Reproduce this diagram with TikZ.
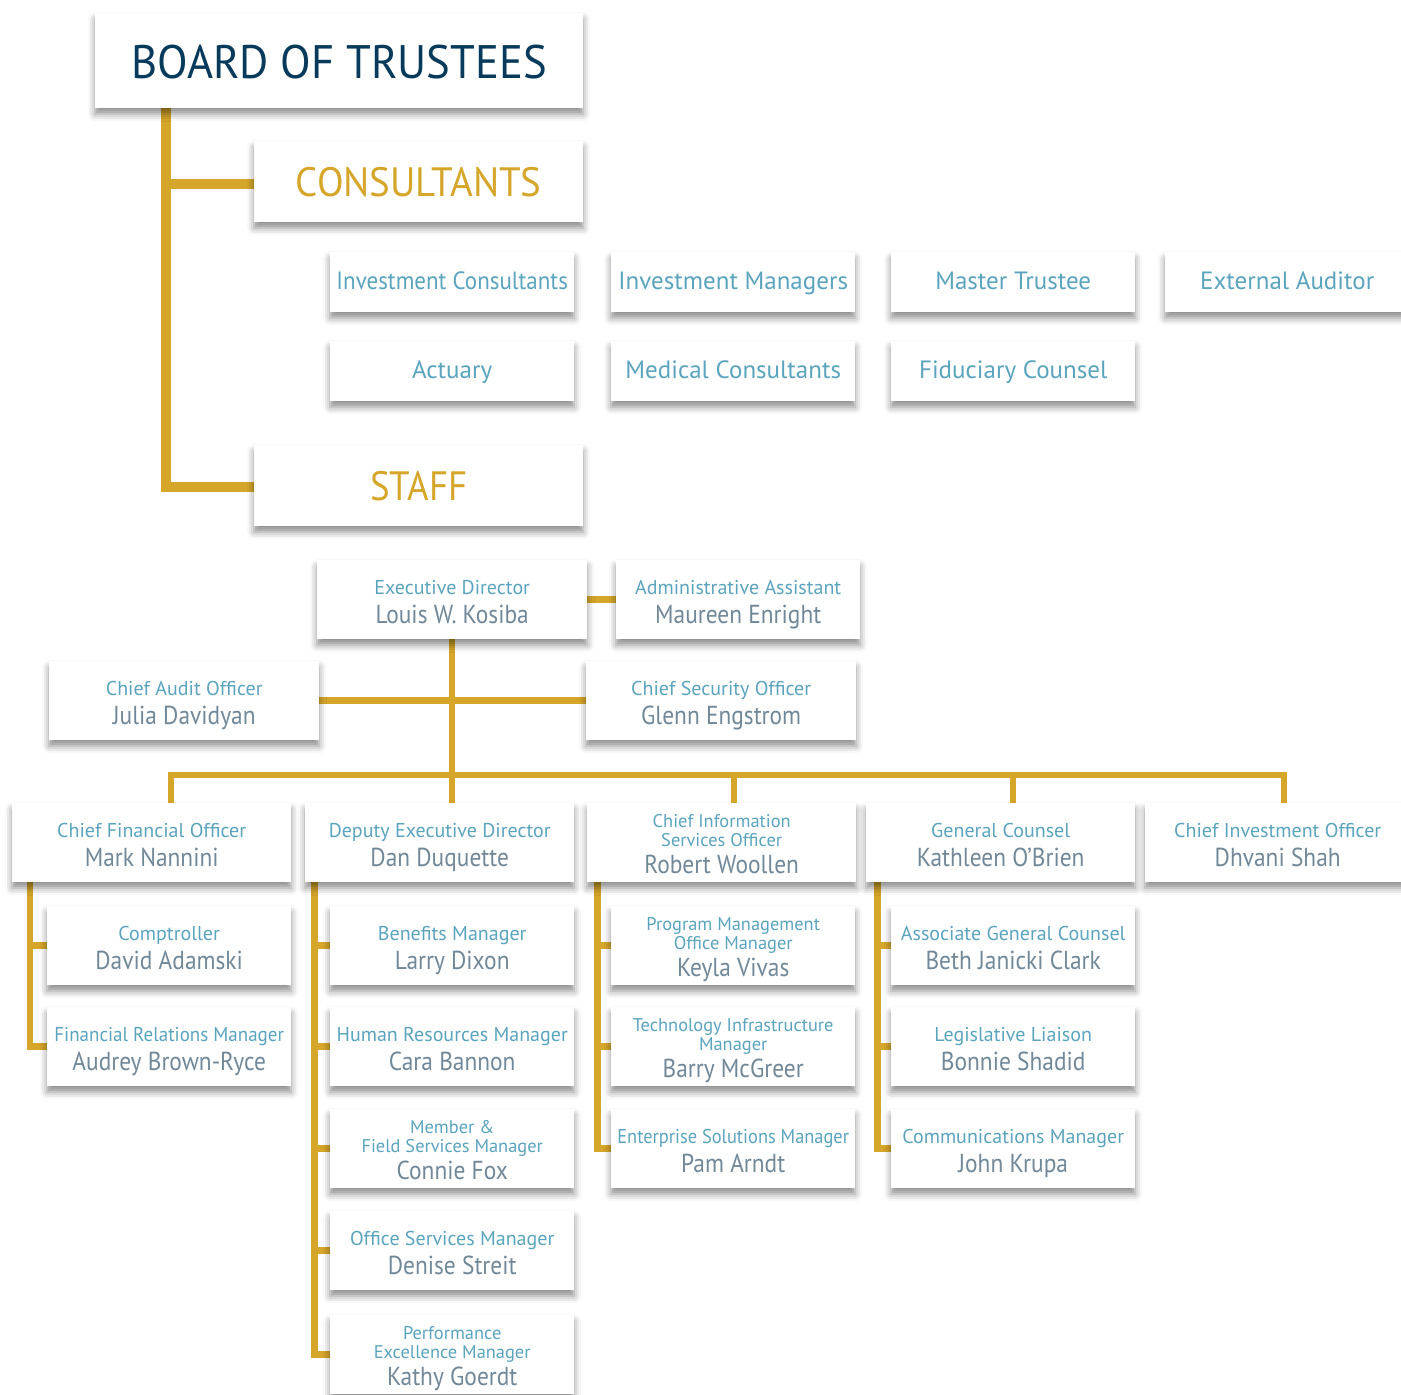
\documentclass[tikz,border=0pt]{standalone}
\usepackage{fontspec}
\setmainfont{PT Sans}
\newfontfamily\namefam{PT Sans}[FakeStretch=0.9]
\newfontfamily\headfam{PT Sans}[FakeStretch=0.95]
\newfontfamily\icfam{PT Sans}[FakeStretch=0.92]
\usetikzlibrary{calc,shadows.blur}
\definecolor{cgold}{HTML}{D5A62A}
\definecolor{cnavy}{HTML}{073A5B}
\definecolor{ctitle}{HTML}{5BA4BE}
\definecolor{cname}{HTML}{718899}
\pgfdeclarelayer{back}\pgfdeclarelayer{bg}\pgfsetlayers{back,bg,main}
\newcommand\TF{\fontsize{20}{20}\selectfont\color{ctitle}}
\newcommand\NF{\namefam\fontsize{26}{26}\selectfont\color{cname}}
\newcommand\SF{\fontsize{18.4}{18.4}\selectfont\color{ctitle}}
\newcommand\CF{\fontsize{25}{25}\selectfont\color{ctitle}}
\newcommand\TN[2]{\vbox{\baselineskip=29pt\lineskiplimit=-100pt\lineskip=0pt\halign{\hfil##\hfil\cr\vrule height18pt width0pt\smash{\TF #1}\cr\smash{\NF #2}\cr}}}
\newcommand\TTN[3]{\vbox{\baselineskip=19pt\lineskiplimit=-100pt\lineskip=0pt\halign{\hfil##\hfil\cr\vrule height16pt width0pt\smash{\SF #1}\cr\smash{\SF #2}\cr\noalign{\vskip8pt}\smash{\NF #3}\cr}}}
\newcommand\ONE[3]{\vrule height#1pt width0pt depth0pt\smash{#2 #3}}
\newcommand\bx[6]{\node[orgbox,minimum width=#4pt,minimum height=#5pt,anchor=north west] (#1) at (#2,#3) {#6};}
\tikzset{
  orgbox/.style={fill=white,inner sep=0pt,
    blur shadow={shadow xshift=0pt,shadow yshift=-6pt,shadow blur radius=7pt,shadow opacity=45}},
  topln/.style={draw=cgold,line width=10pt,line join=miter,line cap=butt},
  ln/.style={draw=cgold,line width=6.5pt,line join=miter,line cap=butt}
}
\begin{document}
\begin{tikzpicture}[x=1pt,y=-1pt]
\begin{pgfonlayer}{back}
\fill[white] (0,0) rectangle (1401,1395);
\end{pgfonlayer}
\useasboundingbox (0,0) rectangle (1401,1395);
% off-page primer for the shadow fading
\node[orgbox,minimum width=10pt,minimum height=10pt] (primer) at (-300,-300) {};
% top
\bx{board}{95}{13}{488}{95}{\ONE{35}{\headfam\fontsize{47}{47}\selectfont\color{cnavy}}{BOARD OF TRUSTEES}}
\bx{cons}{254}{141}{329}{81}{\ONE{29}{\headfam\fontsize{41}{41}\selectfont\color{cgold}}{CONSULTANTS}}
\bx{staff}{254}{445}{329}{81}{\ONE{30}{\namefam\fontsize{41}{41}\selectfont\color{cgold}}{STAFF}}
% consultants
\bx{ic}{330}{252}{244}{60}{\ONE{14}{\icfam\CF}{Investment Consultants}}
\bx{im}{611}{252}{244}{60}{\ONE{14}{\CF}{Investment Managers}}
\bx{mt}{891}{252}{244}{60}{\ONE{14}{\CF}{Master Trustee}}
\bx{ea}{1165}{252}{244}{60}{\ONE{14}{\CF}{External Auditor}}
\bx{act}{330}{341}{244}{60}{\ONE{14}{\CF}{Actuary}}
\bx{mc}{611}{341}{244}{60}{\ONE{14}{\CF}{Medical Consultants}}
\bx{fc}{891}{341}{244}{60}{\ONE{14}{\CF}{Fiduciary Counsel}}
% staff
\bx{exec}{317}{560}{270}{79}{\TN{Executive Director}{Louis W. Kosiba}}
\bx{admin}{616}{560}{244}{79}{\TN{Administrative Assistant}{Maureen Enright}}
\bx{audit}{49}{661}{270}{79}{\TN{Chief Audit Officer}{Julia Davidyan}}
\bx{sec}{586}{661}{270}{79}{\TN{Chief Security Officer}{Glenn Engstrom}}
\bx{cfo}{12}{803}{279}{79}{\TN{Chief Financial Officer}{Mark Nannini}}
\bx{dep}{305}{803}{269}{79}{\TN{Deputy Executive Director}{Dan Duquette}}
\bx{cio}{587}{803}{269}{79}{\TTN{Chief Information}{Services Officer}{Robert Woollen}}
\bx{gc}{866}{803}{269}{79}{\TN{General Counsel}{Kathleen O’Brien}}
\bx{cinv}{1145}{803}{265}{79}{\TN{Chief Investment Officer}{Dhvani Shah}}
% CFO group
\bx{comp}{47}{906}{244}{79}{\TN{Comptroller}{David Adamski}}
\bx{finrel}{47}{1007}{244}{79}{\TN{\headfam Financial Relations Manager}{Audrey Brown-Ryce}}
% Deputy group
\bx{ben}{330}{906}{244}{79}{\TN{Benefits Manager}{Larry Dixon}}
\bx{hr}{330}{1007}{244}{79}{\TN{Human Resources Manager}{Cara Bannon}}
\bx{mem}{330}{1109}{244}{79}{\TTN{Member \&}{Field Services Manager}{Connie Fox}}
\bx{off}{330}{1211}{244}{79}{\TN{Office Services Manager}{Denise Streit}}
\bx{perf}{330}{1315}{244}{79}{\TTN{Performance}{Excellence Manager}{Kathy Goerdt}}
% CIO group
\bx{pm}{611}{906}{244}{79}{\TTN{Program Management}{Office Manager}{Keyla Vivas}}
\bx{tech}{611}{1007}{244}{79}{\TTN{Technology Infrastructure}{Manager}{Barry McGreer}}
\bx{ent}{611}{1109}{244}{79}{\TN{\icfam Enterprise Solutions Manager}{Pam Arndt}}
% GC group
\bx{agc}{891}{906}{244}{79}{\TN{Associate General Counsel}{Beth Janicki Clark}}
\bx{leg}{891}{1007}{244}{79}{\TN{Legislative Liaison}{Bonnie Shadid}}
\bx{comm}{891}{1109}{244}{79}{\TN{Communications Manager}{John Krupa}}
% connectors
\begin{pgfonlayer}{bg}
\coordinate (spine) at ($(board.south west)+(71,0)$);
\draw[topln] (spine) |- ($(staff.west)+(0,1.5)$);
\draw[topln] ($(spine |- cons.west)+(0,2.5)$) -- ($(cons.west)+(0,2.5)$);
\draw[ln] (exec.east) -- (admin.west);
\draw[ln] (audit.east) -- (sec.west);
\coordinate (t1) at ($(cfo.north west)+(159,0)$);
\coordinate (t2) at (exec.south |- dep.north);
\coordinate (t3) at ($(cio.north west)+(147,0)$);
\coordinate (t4) at ($(gc.north west)+(147,0)$);
\coordinate (t5) at ($(cinv.north west)+(139,0)$);
\coordinate (busy) at ($(t1)+(0,-28)$);
\draw[ln] (t1) |- (t5 |- busy) -- (t5);
\draw[ln] (exec.south) -- (t2);
\draw[ln] (t3 |- busy) -- (t3);
\draw[ln] (t4 |- busy) -- (t4);
\coordinate (s1) at ($(cfo.south west)+(18,0)$);
\draw[ln] (s1) |- (finrel.west);
\draw[ln] (s1 |- comp.west) -- (comp.west);
\coordinate (s2) at ($(dep.south west)+(9.5,0)$);
\draw[ln] (s2) |- (perf.west);
\foreach \n in {ben,hr,mem,off} \draw[ln] (s2 |- \n.west) -- (\n.west);
\coordinate (s3) at ($(cio.south west)+(10.5,0)$);
\draw[ln] (s3) |- (ent.west);
\foreach \n in {pm,tech} \draw[ln] (s3 |- \n.west) -- (\n.west);
\coordinate (s4) at ($(gc.south west)+(11.5,0)$);
\draw[ln] (s4) |- (comm.west);
\foreach \n in {agc,leg} \draw[ln] (s4 |- \n.west) -- (\n.west);
\end{pgfonlayer}
\end{tikzpicture}
\end{document}
